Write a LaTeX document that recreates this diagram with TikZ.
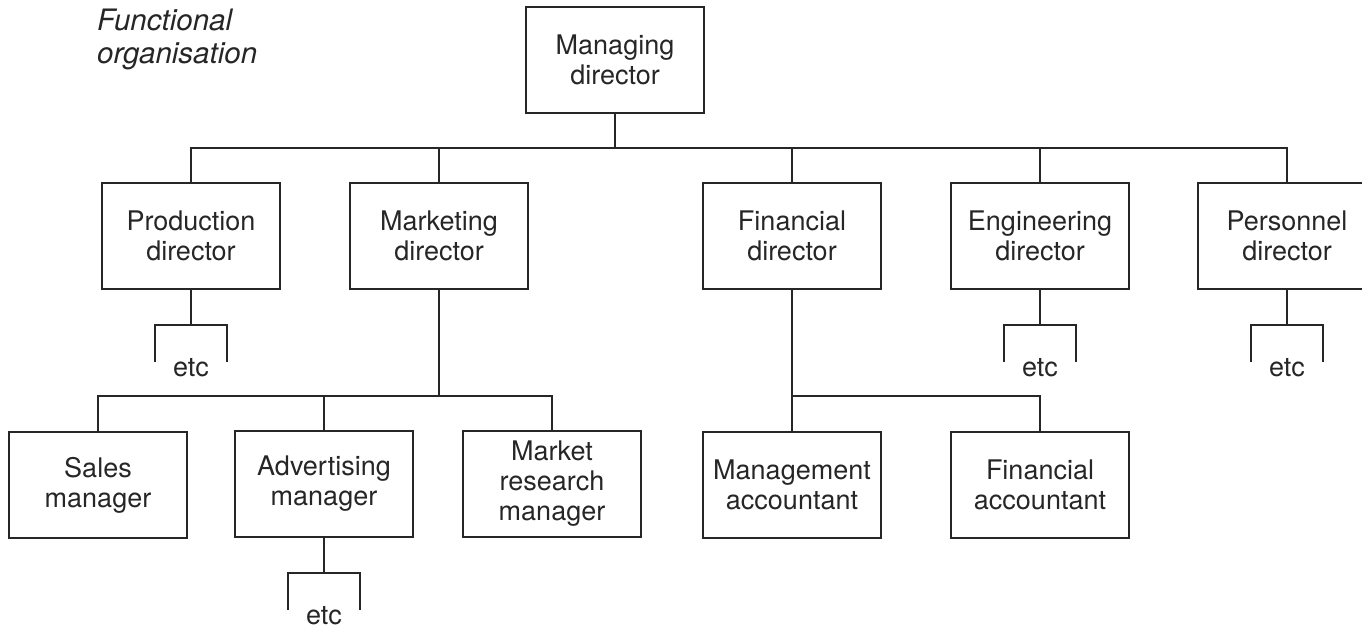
\documentclass[tikz,border=0pt]{standalone}
\usepackage{fontspec}
\setmainfont{TeX Gyre Heros}
\usetikzlibrary{calc}
\begin{document}
\tikzset{
  box/.style={draw=black!85, line width=1.5pt, minimum width=178pt, minimum height=106pt,
    inner sep=0pt, align=center, font=\fontsize{27}{30}\selectfont, text=black!85},
  conn/.style={draw=black!85, line width=1.5pt},
  etclabel/.style={font=\fontsize{27}{30}\selectfont, text=black!85, inner sep=0pt, anchor=base},
  titlelabel/.style={font=\fontsize{29.5}{32.5}\selectfont\itshape, text=black!85, inner sep=0pt,
    align=left, anchor=north west}
}
\begin{tikzpicture}[x=1pt,y=-1pt]
\useasboundingbox (0,0) rectangle (1362,627);
\clip (0,0) rectangle (1362,627);

\node[titlelabel] (title) at (97,9) {Functional\\organisation};

\node[box] (md)    at (615,60)  {Managing\\director};
\node[box] (prod)  at (191,236) {Production\\director};
\node[box] (mkt)   at (439,236) {Marketing\\director};
\node[box] (fin)   at (792,236) {Financial\\director};
\node[box] (eng)   at (1040,236) {Engineering\\director};
\node[box] (pers)  at (1287,236) {Personnel\\director};
\node[box] (sales) at (98,485)  {Sales\\manager};
\node[box] (adv)   at (324,484) {Advertising\\manager};
\node[box] (mr)    at (552,484) {Market\\research\\manager};
\node[box] (ma)    at (792,485) {Management\\accountant};
\node[box] (fa)    at (1040,485) {Financial\\accountant};

\coordinate (bus1) at (0,148);
\coordinate (bus2) at (0,396);

\draw[conn] (md.south) -- (md.south |- bus1);
\draw[conn] (prod.north) -- (prod.north |- bus1) -- (pers.north |- bus1) -- (pers.north);
\foreach \n in {mkt,fin,eng}{
  \draw[conn] (\n.north) -- (\n.north |- bus1);
}

\draw[conn] (mkt.south) -- (mkt.south |- bus2);
\draw[conn] (sales.north) -- (sales.north |- bus2) -- (mr.north |- bus2) -- (mr.north);
\draw[conn] (adv.north) -- (adv.north |- bus2);

\draw[conn] (fin.south) -- (ma.north);
\draw[conn] (fin.south |- bus2) -- (fa.north |- bus2) -- (fa.north);

\foreach \n in {prod,eng,pers,adv}{
  \draw[conn] (\n.south) -- ++(0,35) coordinate (\n j);
  \draw[conn] ($(\n j)+(-36,37)$) |- ($(\n j)+(36,0)$) -- ++(0,37);
  \node[etclabel] (\n etc) at ($(\n j)+(0,52)$) {etc};
}
\end{tikzpicture}
\end{document}
